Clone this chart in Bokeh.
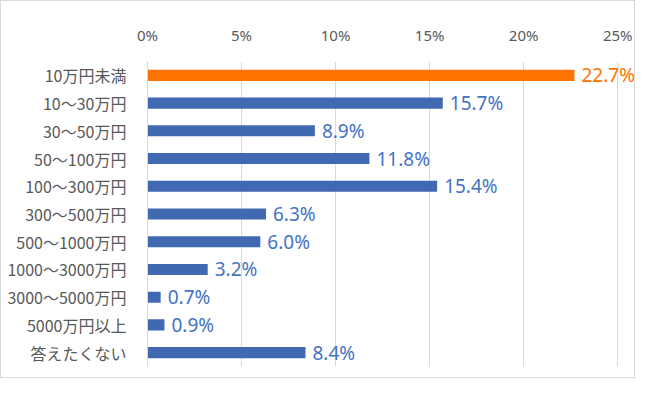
from bokeh.plotting import figure
from bokeh.models import ColumnDataSource, FixedTicker, CustomJSTickFormatter, Range1d
from bokeh.core.properties import value
from bokeh.embed import file_html
from bokeh.resources import INLINE

categories = ["10万円未満", "10～30万円", "30～50万円", "50～100万円", "100～300万円",
              "300～500万円", "500～1000万円", "1000～3000万円", "3000～5000万円",
              "5000万円以上", "答えたくない"]
values = [22.7, 15.7, 8.9, 11.8, 15.4, 6.3, 6.0, 3.2, 0.7, 0.9, 8.4]
tick_values = [0, 5, 10, 15, 20, 25]

BLUE = "#4169B2"
ORANGE = "#FF7300"
colors = [ORANGE if i == 0 else BLUE for i in range(len(values))]
label_colors = [ORANGE if i == 0 else "#4472C4" for i in range(len(values))]

src = ColumnDataSource(dict(
    cat=categories, val=values, col=colors, lcol=label_colors,
    lab=[f"{v:.1f}%" for v in values],
))

p = figure(width=635, height=378, y_range=list(reversed(categories)),
           x_range=Range1d(0, 26.0), x_axis_location="above",
           output_backend="svg", toolbar_location=None,
           min_border_left=146, min_border_right=0, min_border_top=60, min_border_bottom=13)

p.hbar(y="cat", right="val", left=0, height=0.4, fill_color="col", line_color=None, source=src)
p.text(x="val", y="cat", text="lab", text_color="lcol", x_offset=7,
       text_baseline="middle", text_align="left", text_font_size="19px",
       text_font=value("Noto Sans"), source=src)

p.outline_line_color = None
p.ygrid.grid_line_color = None
p.xgrid.grid_line_color = "#d9d9d9"
p.xgrid.ticker = FixedTicker(ticks=tick_values)

xa = p.xaxis[0]
xa.ticker = FixedTicker(ticks=tick_values)
xa.formatter = CustomJSTickFormatter(code="return tick + '%';")
xa.axis_line_color = None
xa.major_tick_line_color = None
xa.minor_tick_line_color = None
xa.major_label_text_font = "Noto Sans"
xa.major_label_text_font_size = "15px"
xa.major_label_text_color = "#595959"
xa.major_label_standoff = 11

ya = p.yaxis[0]
ya.axis_line_color = "#d9d9d9"
ya.major_tick_line_color = None
ya.minor_tick_line_color = None
ya.major_label_text_font = "Noto Sans CJK JP"
ya.major_label_text_font_size = "16px"
ya.major_label_text_color = "#595959"
ya.major_label_standoff = 15

p.styles = {"border": "1px solid #d9d9d9", "box-sizing": "border-box"}

open("out.html", "w").write(file_html(p, INLINE))
